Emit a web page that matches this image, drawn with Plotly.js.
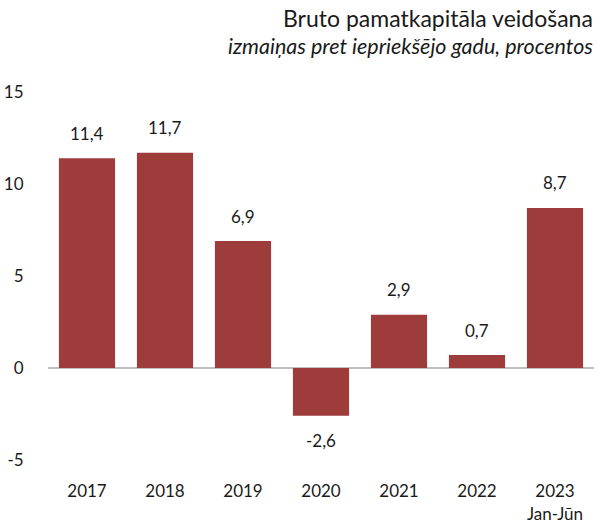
<!DOCTYPE html>
<html>
<head>
<meta charset="utf-8">
<script src="https://cdn.plot.ly/plotly-3.0.1.min.js"></script>
<style>html,body{margin:0;padding:0;background:#fff;}#chart{width:598px;height:522px;}</style>
</head>
<body>
<div id="chart"></div>
<script>
const categories = ["2017", "2018", "2019", "2020", "2021", "2022", "2023<br>Jan-Jūn"];
const values = [11.4, 11.7, 6.9, -2.6, 2.9, 0.7, 8.7];
const yTicks = [-5, 0, 5, 10, 15];
const titleText = "Bruto pamatkapitāla veidošana";
const subtitleText = "izmaiņas pret iepriekšējo gadu, procentos";

const FONT = "Lato, 'Open Sans', sans-serif";
const labels = values.map(v => v.toFixed(1).replace('.', ','));
const xIdx = categories.map((c, i) => i);

const annotations = values.map((v, i) => ({
  x: xIdx[i], y: v, xref: 'x', yref: 'y',
  text: labels[i], showarrow: false,
  yshift: v >= 0 ? 25 : -25,
  font: {family: FONT, size: 17, color: '#1a1a1a'}
}));
annotations.push({
  xref: 'paper', yref: 'paper', x: 1.0, y: 1, xanchor: 'right', yanchor: 'bottom',
  yshift: 58, xshift: 1, text: titleText, showarrow: false,
  font: {family: FONT, size: 23, color: '#1a1a1a'}
});
annotations.push({
  xref: 'paper', yref: 'paper', x: 1.0, y: 1, xanchor: 'right', yanchor: 'bottom',
  yshift: 31, xshift: 1, text: '<i>' + subtitleText + '</i>', showarrow: false,
  font: {family: FONT, size: 21.5, color: '#1a1a1a'}
});

Plotly.newPlot('chart', [{
  type: 'bar', x: xIdx, y: values,
  marker: {color: '#9E3B3B'},
  hoverinfo: 'none'
}], {
  width: 598, height: 522,
  margin: {l: 48, r: 4, t: 92, b: 62},
  paper_bgcolor: '#fff', plot_bgcolor: '#fff',
  bargap: 0.28,
  showlegend: false,
  font: {family: FONT, size: 17, color: '#1a1a1a'},
  xaxis: {
    range: [-0.5, categories.length - 0.5],
    tickvals: xIdx, ticktext: categories,
    showgrid: false, showline: false, zeroline: false,
    ticks: 'outside', ticklen: 16, tickcolor: 'rgba(0,0,0,0)',
    tickfont: {family: FONT, size: 17, color: '#1a1a1a'}
  },
  yaxis: {
    range: [-5, 15], tickvals: yTicks, ticktext: yTicks.map(String),
    showgrid: false, showline: false,
    zeroline: true, zerolinecolor: '#BFBFBF', zerolinewidth: 1.5,
    ticks: 'outside', ticklen: 20, tickcolor: 'rgba(0,0,0,0)',
    tickfont: {family: FONT, size: 17, color: '#1a1a1a'}
  },
  annotations: annotations
}, {staticPlot: true});
</script>
</body>
</html>
